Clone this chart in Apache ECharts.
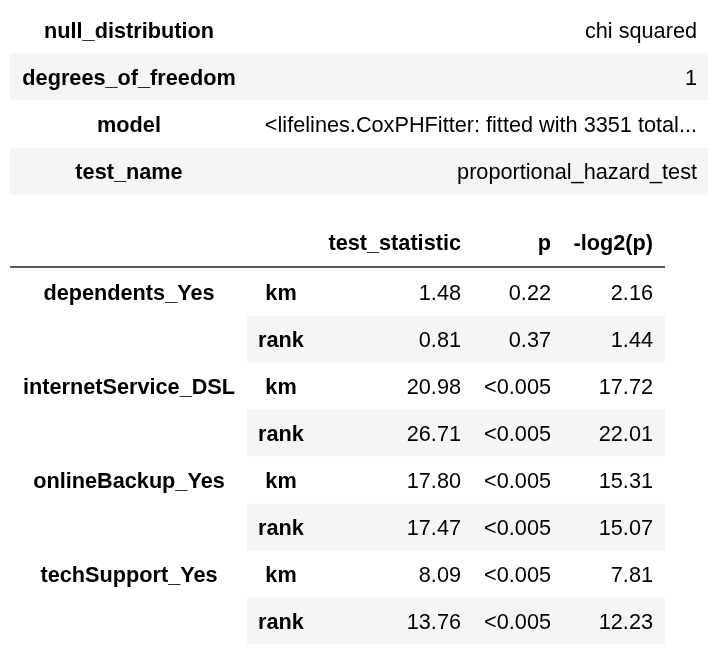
<!DOCTYPE html>
<html>
<head>
<meta charset="utf-8">
<script src="https://cdn.jsdelivr.net/npm/echarts@6/dist/echarts.min.js"></script>
<style>
  html, body { margin: 0; padding: 0; background: #fff; }
  #chart { width: 708px; height: 647px; }
</style>
</head>
<body>
<div id="chart"></div>
<script>
// summary table (key / value)
const summaryKeys = ['null_distribution', 'degrees_of_freedom', 'model', 'test_name'];
const summaryValues = ['chi squared', '1', '<lifelines.CoxPHFitter: fitted with 3351 total...', 'proportional_hazard_test'];

// proportional hazard test results
const headers = ['test_statistic', 'p', '-log2(p)'];
const covariates = ['dependents_Yes', 'internetService_DSL', 'onlineBackup_Yes', 'techSupport_Yes'];
const transforms = ['km', 'rank'];
const testStatistic = [1.48, 0.81, 20.98, 26.71, 17.80, 17.47, 8.09, 13.76];
const pValues = ['0.22', '0.37', '<0.005', '<0.005', '<0.005', '<0.005', '<0.005', '<0.005'];
const negLog2P = [2.16, 1.44, 17.72, 22.01, 15.31, 15.07, 7.81, 12.23];

const FONT = '"Liberation Sans", Arial, sans-serif';
const SIZE = 21.7;
const STRIPE = '#f5f5f5';
const NUDGE = 1.7; // text sits a touch below the row middle

function txt(text, x, y, align, bold) {
    return {
        type: 'text',
        style: {
            text: text,
            x: x,
            y: y + NUDGE,
            align: align,
            verticalAlign: 'middle',
            fill: '#000',
            font: (bold ? 'bold ' : '') + SIZE + 'px ' + FONT
        }
    };
}

function renderSummary(params, api) {
    const i = api.value(1);
    const y = api.coord([0, i])[1];
    const h = api.size([0, 1])[1];
    const X = v => api.coord([v, i])[0];
    const children = [];
    if (i % 2 === 1) {
        children.push({ type: 'rect', shape: { x: X(10), y: y - h / 2, width: X(708) - X(10), height: h }, style: { fill: STRIPE } });
    }
    children.push(txt(summaryKeys[i], X(129), y, 'center', true));
    children.push(txt(summaryValues[i], X(697), y, 'right', false));
    return { type: 'group', children: children };
}

function renderHeader(params, api) {
    const y = api.coord([0, 0])[1];
    const h = api.size([0, 1])[1];
    const X = v => api.coord([v, 0])[0];
    const rights = [461, 551, 653];
    const children = headers.map((t, k) => txt(t, X(rights[k]), y, 'right', true));
    children.push({ type: 'line', shape: { x1: X(10), y1: y + h / 2 + 1, x2: X(665), y2: y + h / 2 + 1 }, style: { stroke: '#595959', lineWidth: 2 } });
    return { type: 'group', children: children };
}

function renderBody(params, api) {
    const i = api.value(1);
    const y = api.coord([0, i])[1];
    const h = api.size([0, 1])[1];
    const X = v => api.coord([v, i])[0];
    const children = [];
    if (i % 2 === 1) {
        children.push({ type: 'rect', shape: { x: X(247), y: y - h / 2, width: X(665) - X(247), height: h }, style: { fill: STRIPE } });
    } else {
        children.push(txt(covariates[i / 2], X(129), y, 'center', true));
    }
    children.push(txt(transforms[i % 2], X(281), y, 'center', true));
    children.push(txt(testStatistic[i].toFixed(2), X(461), y, 'right', false));
    children.push(txt(pValues[i], X(551), y, 'right', false));
    children.push(txt(negLog2P[i].toFixed(2), X(653), y, 'right', false));
    return { type: 'group', children: children };
}

const bodyRows = testStatistic.map((v, i) => covariates[Math.floor(i / 2)] + ' ' + transforms[i % 2]);

const chart = echarts.init(document.getElementById('chart'), null, { renderer: 'canvas' });
const xAx = gi => ({ type: 'value', gridIndex: gi, min: 0, max: 708, show: false });
const yAx = (gi, data) => ({ type: 'category', gridIndex: gi, data: data, inverse: true, show: false });

chart.setOption({
    animation: false,
    backgroundColor: '#fff',
    grid: [
        { left: 0, width: 708, top: 6.5, height: 188 },
        { left: 0, width: 708, top: 218, height: 48 },
        { left: 0, width: 708, top: 268.5, height: 376 }
    ],
    xAxis: [xAx(0), xAx(1), xAx(2)],
    yAxis: [yAx(0, summaryKeys), yAx(1, ['header']), yAx(2, bodyRows)],
    series: [
        {
            type: 'custom', xAxisIndex: 0, yAxisIndex: 0, silent: true,
            renderItem: renderSummary,
            data: summaryKeys.map((k, i) => [0, i])
        },
        {
            type: 'custom', xAxisIndex: 1, yAxisIndex: 1, silent: true,
            renderItem: renderHeader,
            data: [[0, 0]]
        },
        {
            type: 'custom', xAxisIndex: 2, yAxisIndex: 2, silent: true,
            renderItem: renderBody,
            data: bodyRows.map((r, i) => [0, i])
        }
    ]
});
</script>
</body>
</html>
